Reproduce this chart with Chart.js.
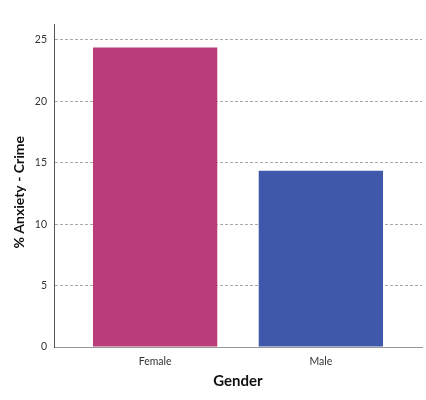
<!DOCTYPE html>
<html>
<head>
<meta charset="utf-8">
<script src="https://cdn.jsdelivr.net/npm/chart.js@4"></script>
<style>
html,body{margin:0;padding:0;background:#fff;}
#wrap{width:426px;height:400px;}
</style>
</head>
<body>
<div id="wrap"><canvas id="c" width="426" height="400"></canvas></div>
<script>
const categories = ['Female', 'Male'];
const values = [24.39, 14.36];
const barColors = ['#BA3D7A', '#3F58AA'];
const yTicks = [0, 5, 10, 15, 20, 25];

const FONT = 'Lato, "Open Sans", sans-serif';

new Chart(document.getElementById('c'), {
  type: 'bar',
  data: {
    datasets: [{
      data: values.map((v, i) => ({x: i, y: v})),
      backgroundColor: barColors,
      borderWidth: 0,
      barPercentage: 0.75,
      categoryPercentage: 1.0
    }]
  },
  options: {
    responsive: false,
    animation: false,
    devicePixelRatio: 1,
    layout: {padding: {top: 24, right: 4, bottom: 0, left: 0}},
    plugins: {legend: {display: false}, tooltip: {enabled: false}},
    scales: {
      x: {
        type: 'linear',
        offset: false,
        bounds: 'data',
        min: -0.61,
        max: 1.61,
        afterBuildTicks: (s) => { s.ticks = categories.map((_, i) => ({value: i})); },
        afterFit: (s) => { s.height = 53; },
        grid: {display: false, drawTicks: false, offset: false},
        border: {display: true, color: '#999999', width: 1},
        ticks: {
          callback: (v) => categories[v],
          font: {family: FONT, size: 10.5},
          color: '#333333',
          padding: 8,
          maxRotation: 0
        },
        title: {
          display: true,
          text: 'Gender',
          font: {family: FONT, size: 15, weight: 'bold'},
          color: '#111111',
          padding: {top: 0, bottom: 10}
        }
      },
      y: {
        min: 0,
        max: 26.3,
        afterBuildTicks: (s) => { s.ticks = yTicks.map(v => ({value: v})); },
        afterFit: (s) => { s.width = 54; },
        grid: {color: '#aaaaaa', drawTicks: false, lineWidth: 1},
        border: {display: true, color: '#555555', width: 1, dash: [3, 2]},
        ticks: {
          font: {family: FONT, size: 10.5},
          color: '#333333',
          padding: 7
        },
        title: {
          display: true,
          text: '% Anxiety - Crime\u00a0\u00a0\u00a0\u00a0',
          font: {family: FONT, size: 14, weight: 'bold'},
          color: '#111111',
          padding: {top: 11, bottom: 0}
        }
      }
    }
  }
});
</script>
</body>
</html>
